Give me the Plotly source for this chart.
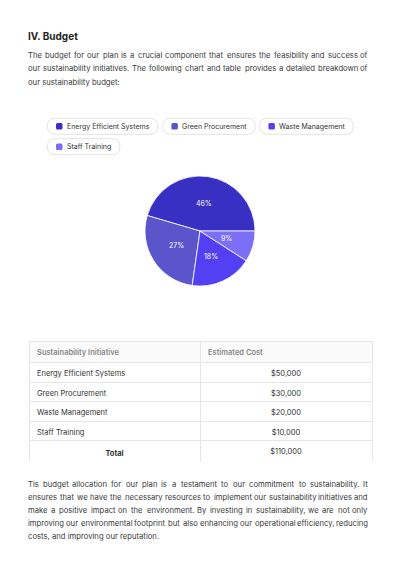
import math
import plotly.graph_objects as go

W, H = 400, 566

# ---------------- data ----------------
categories = ["Energy Efficient Systems", "Green Procurement", "Waste Management", "Staff Training"]
costs = [50000, 30000, 20000, 10000]
colors = ["#3730c2", "#5b55cc", "#5340f5", "#7b6ff7"]

title_text = "IV. Budget"
intro_lines = [
    "The budget for our plan is a crucial component that ensures the feasibility and success of",
    "our sustainability initiatives. The following chart and table provides a detailed breakdown of",
    "our sustainability budget:",
]
outro_lines = [
    "Tis budget allocation for our plan is a testament to our commitment to sustainability. It",
    "ensures that we have the necessary resources to implement our sustainability initiatives and",
    "make a positive impact on the environment. By investing in sustainability, we are not only",
    "improving our environmental footprint but also enhancing our operational efficiency, reducing",
    "costs, and improving our reputation.",
]
table_headers = ["Sustainability Initiative", "Estimated Cost"]
total_label = "Total"

FONT = "Inter, Roboto, sans-serif"
TEXT_L, TEXT_R = 28, 368
BODY_SIZE = 7.7


def fx(x):
    return x / W


def fy(y):
    return 1 - y / H


def largest_remainder(vals, total=100):
    s = sum(vals)
    raw = [v * total / s for v in vals]
    fl = [int(r) for r in raw]
    rem = total - sum(fl)
    order = sorted(range(len(vals)), key=lambda i: raw[i] - fl[i], reverse=True)
    for i in order[:rem]:
        fl[i] += 1
    return fl


# rough relative glyph widths (em) used only to spread words for justified text
_CW = {c: 0.58 for c in "bdghnopqu"}
_CW.update({"a": 0.55, "e": 0.57, "c": 0.54, "k": 0.52, "s": 0.52, "v": 0.53, "x": 0.52, "y": 0.53,
            "z": 0.51, "f": 0.35, "t": 0.35, "r": 0.37, "i": 0.23, "j": 0.23, "l": 0.23,
            "m": 0.86, "w": 0.78, ".": 0.26, ",": 0.26, ":": 0.26,
            "T": 0.6, "I": 0.27, "B": 0.64})


def est_width(word, size):
    return sum(_CW.get(ch, 0.58) for ch in word) * size


pcts = largest_remainder(costs)
total = sum(costs)

fig = go.Figure()

# ---------------- pie ----------------
# slices run counter-clockwise starting at 3 o'clock; plotly places the first
# slice clockwise from `rotation` (measured clockwise from 12 o'clock)
cx, cy, r = 200, 231, 55
first_span = 360.0 * costs[0] / total
fig.add_trace(go.Pie(
    values=costs,
    labels=categories,
    textinfo="none",
    marker=dict(colors=colors, line=dict(color="white", width=0.8)),
    sort=False,
    direction="counterclockwise",
    rotation=90 - first_span,
    domain=dict(x=[fx(cx - r), fx(cx + r)], y=[fy(cy + r), fy(cy - r)]),
    showlegend=False,
    hoverinfo="label+value+percent",
))

annotations = []

# percentage labels at half radius along each slice's mid-angle (counter-clockwise from 3 o'clock)
start = 0.0
for v, p in zip(costs, pcts):
    span = 360.0 * v / total
    mid = math.radians(start + span / 2)
    lx = cx + 0.5 * r * math.cos(mid)
    ly = cy - 0.5 * r * math.sin(mid)
    annotations.append(dict(x=fx(lx), y=fy(ly), xref="paper", yref="paper", xanchor="center",
                            yanchor="middle", text=f"{p}%", showarrow=False, borderpad=0, borderwidth=0,
                            font=dict(size=7, color="white", family=FONT)))
    start += span

# ---------------- table ----------------
tx0, tx1, ty0 = 29, 372, 341.5
hdr_h, row_h = 21, 19.5
n = len(categories)
line_col = "#e6e6e6"
col1 = categories
col2 = [f"${v:,}" for v in costs]
body_bottom = ty0 + hdr_h + n * row_h
fig.add_trace(go.Table(
    domain=dict(x=[fx(tx0), fx(tx1)], y=[fy(body_bottom + 2), fy(ty0)]),
    columnwidth=[171, 172],
    header=dict(
        values=table_headers,
        fill_color="#fafafa",
        line=dict(color=line_col, width=1),
        align="left",
        font=dict(color="#888888", size=7.5, family=FONT, weight=600),
        height=hdr_h,
    ),
    cells=dict(
        values=[col1, col2],
        fill_color="white",
        line=dict(color=line_col, width=1),
        align=["left", "center"],
        font=dict(color="#333333", size=7.5, family=FONT),
        height=row_h,
    ),
))
# total row
fig.add_trace(go.Table(
    domain=dict(x=[fx(tx0), fx(tx1)], y=[fy(body_bottom + row_h + 2), fy(body_bottom)]),
    columnwidth=[171, 172],
    header=dict(
        values=[f"<b>{total_label}</b>", f"${total:,}"],
        fill_color="white",
        line=dict(color=line_col, width=1),
        align="center",
        font=dict(color="#333333", size=7.5, family=FONT),
        height=row_h,
    ),
    cells=dict(values=[[], []], height=row_h, line=dict(color=line_col, width=1)),
))

# title
annotations.append(dict(x=fx(TEXT_L), y=fy(36), xref="paper", yref="paper", xanchor="left", yanchor="middle",
                        text=f"<b>{title_text}</b>", showarrow=False, borderpad=0, borderwidth=0,
                        font=dict(size=10, color="#1f1f1f", family=FONT)))


def text_ann(x, y, s, anchor):
    return dict(x=fx(x), y=fy(y), xref="paper", yref="paper", xanchor=anchor, yanchor="middle",
                text=s, showarrow=False, borderpad=0, borderwidth=0,
                font=dict(size=BODY_SIZE, color="#3a3a3a", family=FONT))


def add_para(lines, y0, step):
    for i, ln in enumerate(lines):
        y = y0 + i * step
        if i == len(lines) - 1:
            annotations.append(text_ann(TEXT_L, y, ln, "left"))
            continue
        words = ln.split(" ")
        widths = [est_width(w, BODY_SIZE) for w in words]
        gap = (TEXT_R - TEXT_L - sum(widths)) / (len(words) - 1)
        x = TEXT_L
        for k, (w, wd) in enumerate(zip(words, widths)):
            if k == len(words) - 1:
                annotations.append(text_ann(TEXT_R, y, w, "right"))
            else:
                annotations.append(text_ann(x, y, w, "left"))
            x += wd + gap


add_para(intro_lines, 55.7, 13.3)
add_para(outro_lines, 484, 13)

# ---------------- legend chips ----------------
shapes = []
chip_boxes = [(47.3, 157.7, 126.3), (162.7, 255.3, 126.3), (259.7, 353.3, 126.3), (47.3, 120.0, 146.7)]
ch = 16


def rrect(x0, x1, yc, h, rad):
    y0, y1 = yc - h / 2, yc + h / 2
    X = fx
    Y = fy
    return (f"M {X(x0 + rad)} {Y(y0)} L {X(x1 - rad)} {Y(y0)} Q {X(x1)} {Y(y0)} {X(x1)} {Y(y0 + rad)} "
            f"L {X(x1)} {Y(y1 - rad)} Q {X(x1)} {Y(y1)} {X(x1 - rad)} {Y(y1)} "
            f"L {X(x0 + rad)} {Y(y1)} Q {X(x0)} {Y(y1)} {X(x0)} {Y(y1 - rad)} "
            f"L {X(x0)} {Y(y0 + rad)} Q {X(x0)} {Y(y0)} {X(x0 + rad)} {Y(y0)} Z")


for (x0, x1, yc), name, col in zip(chip_boxes, categories, colors):
    shapes.append(dict(type="path", xref="paper", yref="paper", path=rrect(x0, x1, yc, ch, 8),
                       line=dict(color="#e3e3e3", width=1), fillcolor="white", layer="below"))
    shapes.append(dict(type="path", xref="paper", yref="paper", path=rrect(x0 + 8.7, x0 + 15.2, yc, 6.5, 1.5),
                       line=dict(width=0), fillcolor=col))
    annotations.append(dict(x=fx(x0 + 19.4), y=fy(yc), xref="paper", yref="paper", xanchor="left",
                            yanchor="middle", text=name, showarrow=False, borderpad=0, borderwidth=0,
                            font=dict(size=7, color="#333333", family=FONT)))

fig.update_layout(
    width=W, height=H,
    margin=dict(l=0, r=0, t=0, b=0),
    paper_bgcolor="white", plot_bgcolor="white",
    annotations=annotations, shapes=shapes,
    showlegend=False,
    font=dict(family=FONT),
)

fig.write_html("out.html")
